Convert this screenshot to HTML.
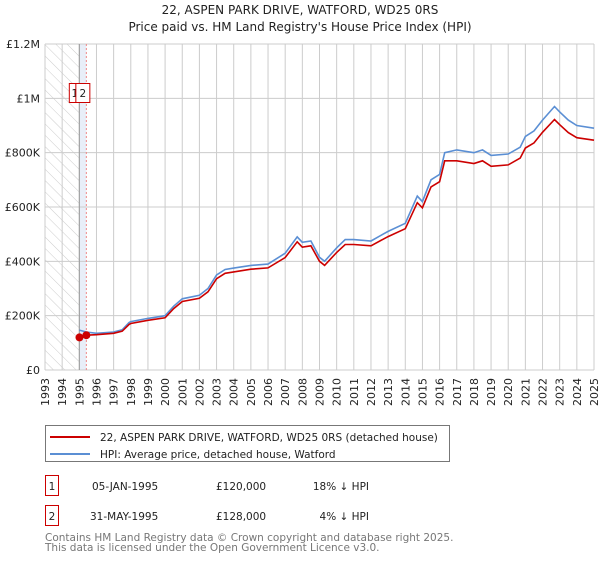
<!DOCTYPE html>
<html><head><meta charset="utf-8"><style>
body{margin:0;background:#fff;font-family:"DejaVu Sans","Liberation Sans",sans-serif;}
svg text{font-family:"DejaVu Sans","Liberation Sans",sans-serif;}
</style></head><body>
<svg id="chart" width="600" height="560" xmlns="http://www.w3.org/2000/svg">
<defs><pattern id="hatch" width="8" height="8" patternUnits="userSpaceOnUse" patternTransform="rotate(-45)"><line x1="0" y1="0" x2="0" y2="8" stroke="#ccc" stroke-width="1"/></pattern></defs>
<text x="300" y="14" font-size="12" text-anchor="middle" fill="#222">22, ASPEN PARK DRIVE, WATFORD, WD25 0RS</text>
<text x="300" y="31" font-size="12" text-anchor="middle" fill="#222">Price paid vs. HM Land Registry's House Price Index (HPI)</text>
<g id="grid"></g><g id="marks"></g><g id="axes"></g>
<g>
<rect x="45.5" y="425.5" width="404" height="36" fill="#fff" stroke="#777"/>
<line x1="50" y1="437" x2="90" y2="437" stroke="#cc0000" stroke-width="2"/>
<text x="100" y="441" font-size="10.5" fill="#222">22, ASPEN PARK DRIVE, WATFORD, WD25 0RS (detached house)</text>
<line x1="50" y1="454" x2="90" y2="454" stroke="#5b8fd4" stroke-width="2"/>
<text x="100" y="458" font-size="10.5" fill="#222">HPI: Average price, detached house, Watford</text>
</g>
<g font-size="10.5" fill="#222">
<rect x="45.5" y="475.5" width="13" height="20" fill="#fff" stroke="#cc0000"/><text x="52" y="490" text-anchor="middle">1</text>
<text x="92" y="490">05-JAN-1995</text><text x="216" y="490">£120,000</text><text x="369" y="490" text-anchor="end">18% ↓ HPI</text>
<rect x="45.5" y="505.5" width="13" height="20" fill="#fff" stroke="#cc0000"/><text x="52" y="520" text-anchor="middle">2</text>
<text x="90" y="520">31-MAY-1995</text><text x="216" y="520">£128,000</text><text x="369" y="520" text-anchor="end">4% ↓ HPI</text>
</g>
<g font-size="10.5" fill="#777">
<text x="45" y="541">Contains HM Land Registry data © Crown copyright and database right 2025.</text>
<text x="45" y="551">This data is licensed under the Open Government Licence v3.0.</text>
</g>
</svg>
<script>
const hpiYears=[1995.0,1995.4,1996,1997,1997.5,1997.9,1998,1999,2000,2000.5,2001,2002,2002.5,2003,2003.5,2004,2005,2006,2007,2007.7,2008,2008.5,2009,2009.3,2010,2010.5,2011,2012,2012.7,2013,2014,2014.7,2015,2015.5,2016,2016.3,2017,2018,2018.5,2019,2020,2020.7,2021,2021.5,2022,2022.7,2023,2023.5,2024,2025];
const hpiValues=[147,140,135,140,148,175,178,190,200,235,262,275,300,350,370,375,385,390,430,490,470,475,415,400,450,480,480,475,500,510,540,640,620,700,720,800,810,800,810,790,795,820,860,880,920,970,950,920,900,890];
const priceValues=[120,128,130,135,143,168,171,183,192,226,252,264,288,336,356,361,371,376,414,472,452,457,400,385,433,462,462,457,481,491,520,616,597,674,693,770,770,760,770,750,755,780,817,836,875,922,903,874,855,846];
const yTicks=[0,200,400,600,800,1000,1200];
const yTickLabels=["£0","£200K","£400K","£600K","£800K","£1M","£1.2M"];
const xTicks=[];for(let y=1993;y<=2025;y++)xTicks.push(y);
const sales=[{d:1995.01,v:120,n:"1"},{d:1995.41,v:128,n:"2"}];
const X=t=>45+(t-1993)*(549/32), Y=v=>370-v*(326/1200);
const NS="http://www.w3.org/2000/svg";
function mk(tag,attrs,parent){const e=document.createElementNS(NS,tag);for(const k in attrs)e.setAttribute(k,attrs[k]);parent.appendChild(e);return e;}
const grid=document.getElementById('grid'),marks=document.getElementById('marks'),axes=document.getElementById('axes');
let r=mk('rect',{x:X(1993),y:Y(1200),width:X(1995)-X(1993),height:Y(0)-Y(1200),fill:'url(#hatch)'},grid);


r=mk('rect',{x:X(1995),y:Y(1200),width:X(1995.41)-X(1995),height:Y(0)-Y(1200),fill:'#e8eef8'},grid);


xTicks.forEach(t=>{const l=mk('line',{x1:X(t),x2:X(t),y1:Y(1200),y2:Y(0),stroke:'#ccc'},grid);


const tx=mk('text',{x:0,y:0,'font-size':11,fill:'#222',transform:`translate(${X(t)+4},${Y(0)+36}) rotate(-90)`},axes);tx.textContent=t;

});
yTicks.forEach((v,i)=>{const l=mk('line',{x1:X(1993),x2:X(2025),y1:Y(v),y2:Y(v),stroke:'#ccc'},grid);


const tx=mk('text',{x:40,y:Y(v)+4,'font-size':11,fill:'#222','text-anchor':'end'},axes);tx.textContent=yTickLabels[i];

});
let l=mk('line',{x1:X(1995),x2:X(1995),y1:Y(1200),y2:Y(0),stroke:'#999'},marks);


l=mk('line',{x1:X(1995.41),x2:X(1995.41),y1:Y(1200),y2:Y(0),stroke:'#e88','stroke-dasharray':'2,2'},marks);


const path=(vals,col,name)=>{const d=hpiYears.map((t,i)=>(i?'L':'M')+X(t).toFixed(1)+','+Y(vals[i]).toFixed(1)).join('');
const p=mk('path',{d,fill:'none',stroke:col,'stroke-width':1.6},marks);

};
path(hpiValues,'#5b8fd4','hpi-line');path(priceValues,'#cc0000','price-paid-line');
sales.forEach((s,i)=>{const c=mk('circle',{cx:X(s.d),cy:Y(s.v),r:4,fill:'#cc0000'},marks);


const rr=mk('rect',{x:(i?X(1995.41)-10.5:X(1995)-10),y:83.5,width:(i?14:11),height:19,fill:'#fff',stroke:'#cc0000'},marks);


const tx=mk('text',{x:(i?X(1995.41)-3.5:X(1995)-4.5),y:97,'font-size':10.5,'text-anchor':'middle',fill:'#222'},marks);tx.textContent=s.n;

});
</script>
</body></html>
